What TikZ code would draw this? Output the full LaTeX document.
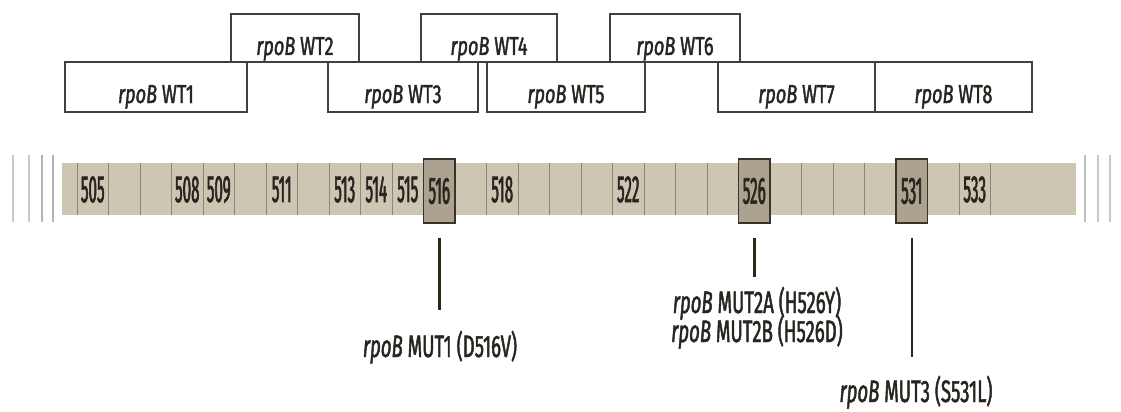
\documentclass[tikz,border=0pt]{standalone}
\usepackage{fontspec}
\usetikzlibrary{calc}
\setmainfont{Fira Sans}
\newfontfamily\wtfont[FakeStretch=0.70,FakeBold=1.5]{Fira Sans}
\newfontfamily\mutfont[FakeStretch=0.60,FakeBold=1.5]{Fira Sans}
\newfontfamily\numfont[FakeStretch=0.40,FakeBold=1.5]{Fira Sans}
\definecolor{barfill}{HTML}{CDC6B3}
\definecolor{hlfill}{HTML}{ABA38F}
\definecolor{hlline}{HTML}{3A3428}
\definecolor{divline}{HTML}{8C8678}
\definecolor{boxline}{HTML}{404040}
\definecolor{txt}{HTML}{282420}
\definecolor{mutcol}{HTML}{2E2618}
\definecolor{sidegray}{HTML}{C4C4C4}
\begin{document}
\begin{tikzpicture}[x=1pt,y=-1pt,
  wtbox/.style={draw=boxline, line width=1.1pt, inner sep=0pt, outer sep=0pt,
    anchor=north west, text=txt, text height=41pt,
    font=\wtfont\fontsize{26}{30}\selectfont},
  toprow/.style={wtbox, text depth=7pt, minimum height=48pt},
  botrow/.style={wtbox, text depth=9pt, minimum height=50pt},
  num/.style={inner sep=0pt, text=txt, font=\numfont\fontsize{38}{42}\selectfont},
  hlbox/.style={num, draw=hlline, fill=hlfill, line width=1.4pt,
    minimum width=31.5pt, minimum height=64pt},
  divider/.style={draw=divline, line width=0.6pt},
  sideline/.style={draw=sidegray, line width=1.6pt},
  mutline/.style={draw=mutcol},
  mutlab/.style={inner sep=0pt, anchor=base, text=txt, text height=21pt, text depth=0pt,
    font=\mutfont\fontsize{31}{34}\selectfont}
]
\useasboundingbox (0,0) rectangle (1121,412);

% probe boxes
\node[toprow, minimum width=128pt] (wt2) at (231,14) {{\itshape rpoB} WT2};
\node[toprow, minimum width=136pt] (wt4) at (421,14) {{\itshape rpoB} WT4};
\node[toprow, minimum width=130pt] (wt6) at (610,14) {{\itshape rpoB} WT6};
\node[botrow, minimum width=182pt] (wt1) at (65,62) {{\itshape rpoB} WT1};
\node[botrow, minimum width=150pt] (wt3) at (328,62) {{\itshape rpoB} WT3};
\node[botrow, minimum width=158pt] (wt5) at (487,62) {{\itshape rpoB} WT5};
\node[botrow, minimum width=157pt] (wt7) at (718,62) {{\itshape rpoB} WT7};
\node[botrow, minimum width=157pt] (wt8) at (875,62) {{\itshape rpoB} WT8};

% side tick lines
\foreach \x/\c in {13/C8C8C8,29/C8C8C8,42/B4B4B4,53/B4B4B4,1085/BEBEBE,1098/C8C8C8,1110/C8C8C8}{
  \definecolor{tmpc}{HTML}{\c}
  \draw[sideline, draw=tmpc] (\x,155) -- (\x,222);
}

% gene bar
\node[fill=barfill, inner sep=0pt, anchor=north west, minimum width=1014pt, minimum height=52pt] (bar) at (62,163) {};
\foreach \k in {0,...,29}{
  \draw[divider] ({77+31.5*\k},163) -- ({77+31.5*\k},215);
}

% codon numbers
\foreach \k/\n in {0/505,3/508,4/509,6/511,8/513,9/514,10/515,13/518,17/522,28/533}{
  \node[num] (c\n) at ({92.75+31.5*\k},189.5) {\n};
}
\node[hlbox] (c516) at ({92.75+31.5*11},191) {516};
\node[hlbox] (c526) at ({92.75+31.5*21},191) {526};
\node[hlbox] (c531) at ({92.75+31.5*26},191) {531};

% mutation labels
\node[mutlab] (mut1) at (440,357) {{\itshape rpoB} MUT1 (D516V)};
\node[mutlab] (mut2a) at (757,313) {{\itshape rpoB} MUT2A (H526Y)};
\node[mutlab] (mut2b) at (757,342) {{\itshape rpoB} MUT2B (H526D)};
\node[mutlab] (mut3) at (916,402) {{\itshape rpoB} MUT3 (S531L)};

% connectors
\draw[mutline, line width=3.5pt] ($(c516.south)+(0,14)$) -- ($(c516.south |- mut1.north)+(0,-26)$);
\draw[mutline, line width=3pt] ($(c526.south)+(0,14)$) -- ($(c526.south |- mut2a.north)+(0,-15)$);
\draw[mutline, line width=1.8pt] ($(c531.south)+(0,14)$) -- ($(c531.south |- mut3.north)+(0,-24)$);
\end{tikzpicture}
\end{document}
